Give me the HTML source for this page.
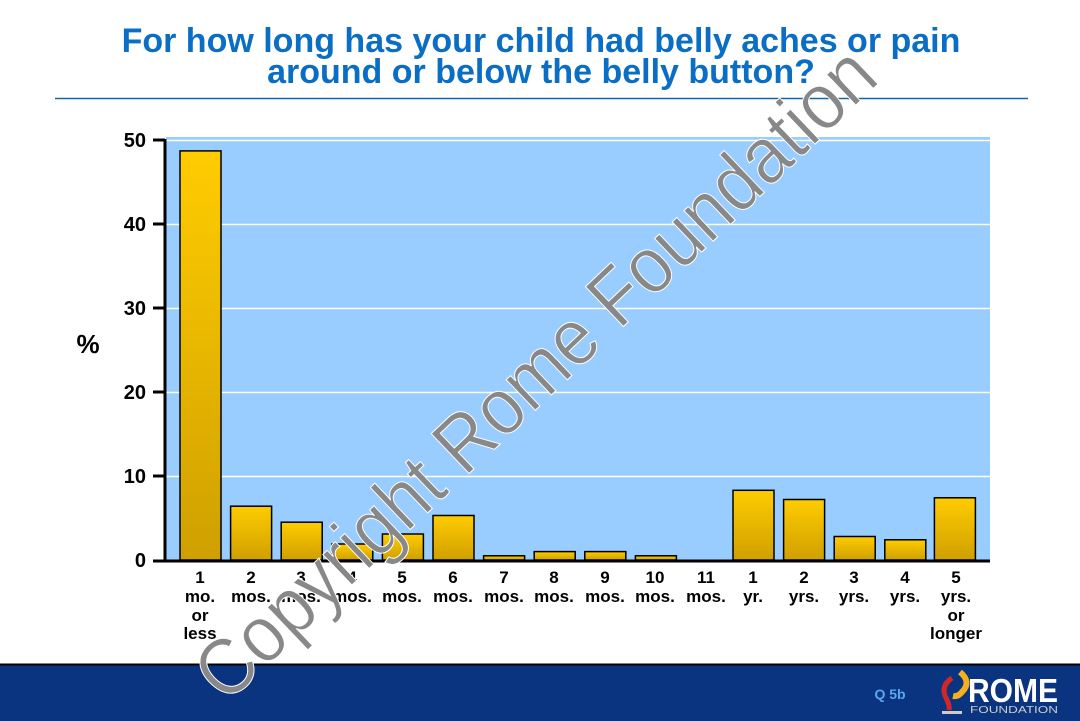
<!DOCTYPE html>
<html><head><meta charset="utf-8"><style>
html,body{margin:0;padding:0;background:#fff;}
svg{display:block;}
</style></head><body>
<svg width="1080" height="721" xmlns="http://www.w3.org/2000/svg" font-family="Liberation Sans, Arial, sans-serif">
<defs>
<linearGradient id="g" x1="0" y1="0" x2="0" y2="1">
<stop offset="0" stop-color="#FFCC00"/><stop offset="1" stop-color="#CFA000"/>
</linearGradient>
</defs>
<text x="541" y="52" text-anchor="middle" font-size="34" font-weight="bold" fill="#0A6EC4">For how long has your child had belly aches or pain</text>
<text x="541" y="83" text-anchor="middle" font-size="34" font-weight="bold" fill="#0A6EC4">around or below the belly button?</text>
<line x1="55" y1="98.5" x2="1028" y2="98.5" stroke="#1565a8" stroke-width="1.5"/>
<rect x="166" y="137" width="824" height="423" fill="#99CCFF"/>
<g stroke="#fff" stroke-width="1.5">
<line x1="166" y1="224.5" x2="990" y2="224.5"/>
<line x1="166" y1="308.5" x2="990" y2="308.5"/>
<line x1="166" y1="392.5" x2="990" y2="392.5"/>
<line x1="166" y1="476.5" x2="990" y2="476.5"/>
<line x1="166" y1="140.5" x2="990" y2="140.5"/>
</g>
<g fill="url(#g)" stroke="#000" stroke-width="1.5">
<rect x="180" y="150.9" width="41" height="409.1"/>
<rect x="230.6" y="506.2" width="41" height="53.8"/>
<rect x="281.2" y="522.2" width="41" height="37.8"/>
<rect x="331.8" y="544" width="41" height="16"/>
<rect x="382.4" y="534" width="41" height="26"/>
<rect x="433" y="515.5" width="41" height="44.5"/>
<rect x="483.6" y="555.8" width="41" height="4.2"/>
<rect x="534.2" y="551.6" width="41" height="8.4"/>
<rect x="584.8" y="551.6" width="41" height="8.4"/>
<rect x="635.4" y="555.8" width="41" height="4.2"/>
<rect x="733" y="490.3" width="41" height="69.7"/>
<rect x="783.6" y="499.5" width="41" height="60.5"/>
<rect x="834.2" y="536.5" width="41" height="23.5"/>
<rect x="884.8" y="539.8" width="41" height="20.2"/>
<rect x="934.4" y="497.8" width="41" height="62.2"/>
</g>
<g stroke="#000" stroke-width="3">
<line x1="165" y1="139" x2="165" y2="562"/>
<line x1="153" y1="561" x2="990" y2="561"/>
<line x1="153" y1="140" x2="165" y2="140"/>
<line x1="153" y1="224" x2="165" y2="224"/>
<line x1="153" y1="308" x2="165" y2="308"/>
<line x1="153" y1="392" x2="165" y2="392"/>
<line x1="153" y1="476" x2="165" y2="476"/>
</g>
<g font-size="20" font-weight="bold" text-anchor="end" fill="#000">
<text x="146" y="147">50</text><text x="146" y="231">40</text><text x="146" y="315">30</text>
<text x="146" y="399">20</text><text x="146" y="483">10</text><text x="146" y="567">0</text>
</g>
<text x="88" y="353" font-size="26" font-weight="bold" text-anchor="middle">%</text>
<g font-size="17" font-weight="bold" text-anchor="middle" fill="#000">
<text x="200" y="583">1</text><text x="200" y="602">mo.</text><text x="200" y="621">or</text><text x="200" y="639">less</text>
<text x="251" y="583">2</text><text x="251" y="602">mos.</text>
<text x="301" y="583">3</text><text x="301" y="602">mos.</text>
<text x="352" y="583">4</text><text x="352" y="602">mos.</text>
<text x="402" y="583">5</text><text x="402" y="602">mos.</text>
<text x="453" y="583">6</text><text x="453" y="602">mos.</text>
<text x="504" y="583">7</text><text x="504" y="602">mos.</text>
<text x="554" y="583">8</text><text x="554" y="602">mos.</text>
<text x="605" y="583">9</text><text x="605" y="602">mos.</text>
<text x="655" y="583">10</text><text x="655" y="602">mos.</text>
<text x="706" y="583">11</text><text x="706" y="602">mos.</text>
<text x="753" y="583">1</text><text x="753" y="602">yr.</text>
<text x="804" y="583">2</text><text x="804" y="602">yrs.</text>
<text x="854" y="583">3</text><text x="854" y="602">yrs.</text>
<text x="905" y="583">4</text><text x="905" y="602">yrs.</text>
<text x="956" y="583">5</text><text x="956" y="602">yrs.</text><text x="956" y="621">or</text><text x="956" y="639">longer</text>
</g>
<rect x="0" y="664" width="1080" height="57" fill="#0A3380"/>
<line x1="0" y1="664.5" x2="1080" y2="664.5" stroke="#000" stroke-width="2"/>
<text x="890" y="699" font-size="14" font-weight="bold" fill="#5AA8F0" text-anchor="middle">Q 5b</text>
<path d="M952 678 q-12 8 -6 20 q4 7 3 12" stroke="#D02828" stroke-width="5" fill="none"/>
<path d="M960 672 q12 10 2 20 q-4 5 -9 4" stroke="#F5B020" stroke-width="6" fill="none"/>
<rect x="942" y="711" width="20" height="3" fill="#ccc"/>
<text x="968" y="702" font-size="33" font-weight="bold" fill="#fff" textLength="90" lengthAdjust="spacingAndGlyphs">ROME</text>
<text x="970" y="713" font-size="10" fill="#ccc" textLength="88" lengthAdjust="spacingAndGlyphs">FOUNDATION</text>
<text x="0" y="0" transform="translate(226,705) rotate(-43.6)" font-size="80" fill="#888" stroke="#fff" stroke-width="1" textLength="905" lengthAdjust="spacingAndGlyphs">Copyright Rome Foundation</text>
</svg>
</body></html>
